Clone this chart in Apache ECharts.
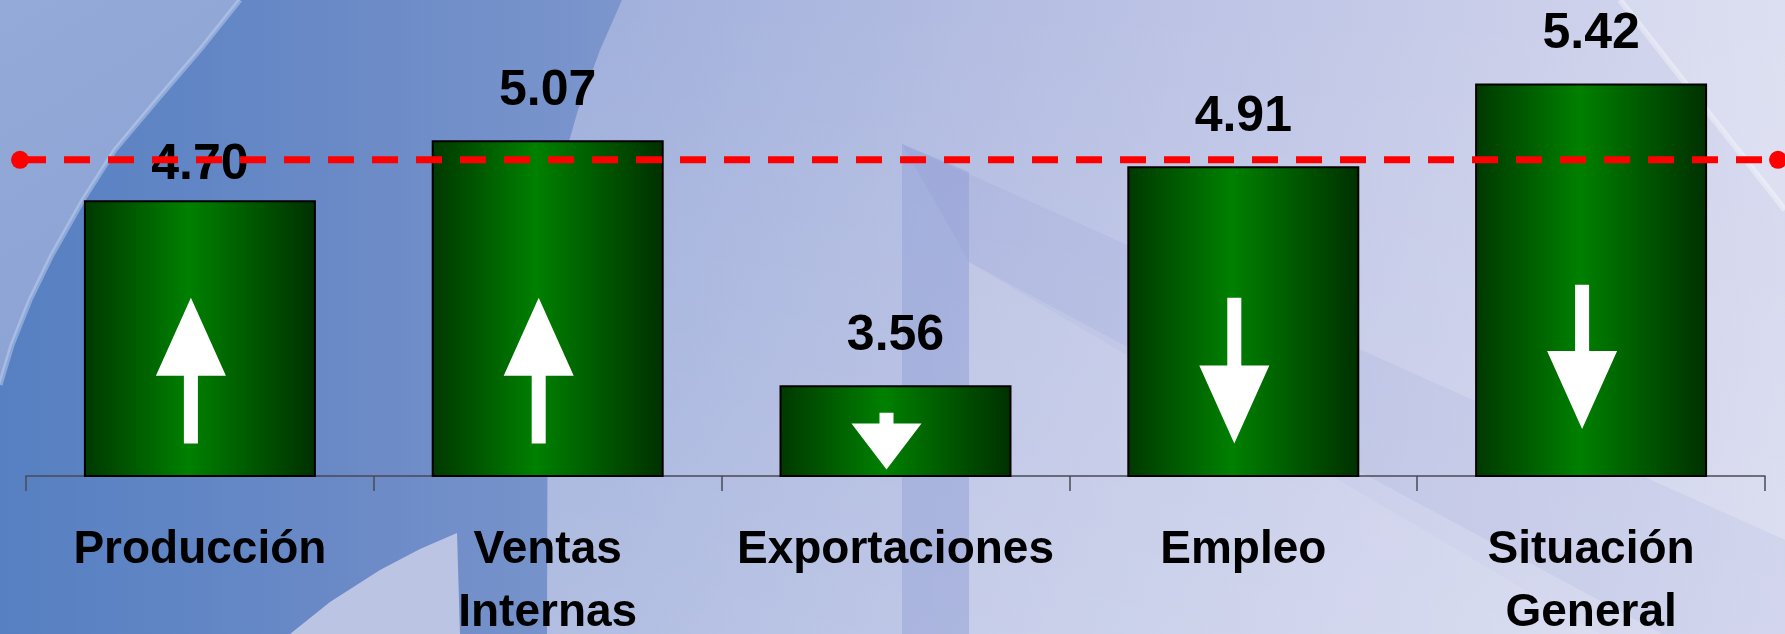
<!DOCTYPE html>
<html>
<head>
<meta charset="utf-8">
<script src="https://cdn.jsdelivr.net/npm/echarts@6/dist/echarts.min.js"></script>
<style>
html,body{margin:0;padding:0;}
#c{width:1785px;height:634px;}
</style>
</head>
<body>
<div id="c"></div>
<script>
// ---- data ----
const categories = ['Producción', 'Ventas\nInternas', 'Exportaciones', 'Empleo', 'Situación\nGeneral'];
const values = [4.70, 5.07, 3.56, 4.91, 5.42];
const refLine = 4.95;
// arrows drawn inside bars: tail value -> tip value
const arrowFrom = [3.20, 3.20, 3.39, 4.10, 4.18];
const arrowTo = [4.10, 4.10, 3.04, 3.20, 3.29];

const Y_MIN = 3, Y_MAX = 5.8;
const FONT = 'Liberation Sans, Arial, sans-serif';

// ---- background decoration (not data) ----
function bgGraphics() {
  const g = [];
  g.push({type:'rect', z:-20, shape:{x:0,y:0,width:1785,height:634},
    style:{fill:new echarts.graphic.LinearGradient(0,0,1,0,[
      {offset:0,color:'#93a9d7'},{offset:0.35,color:'#a2b1dc'},{offset:0.55,color:'#b4bde2'},
      {offset:0.78,color:'#c5cae8'},{offset:1,color:'#d5d8ee'}])}});
  g.push({type:'rect', z:-19, shape:{x:0,y:0,width:1785,height:634},
    style:{fill:new echarts.graphic.LinearGradient(0,0,0,1,[
      {offset:0,color:'rgba(255,255,255,0)'},{offset:1,color:'rgba(255,255,255,0.18)'}])}});
  // N shape of watermark
  g.push({type:'polygon', z:-18, shape:{points:[[902,144],[1785,540],[1785,700],[969,262]]},
    style:{fill:'rgba(110,125,195,0.09)'}});
  g.push({type:'polygon', z:-18, shape:{points:[[969,262],[1600,634],[969,634]]},
    style:{fill:'rgba(255,255,255,0.10)'}});
  g.push({type:'polygon', z:-17, shape:{points:[[902,144],[969,172],[969,634],[902,634]]},
    style:{fill:'rgba(120,135,205,0.28)'}});
  g.push({type:'polygon', z:-18, shape:{points:[[1620,0],[1785,0],[1785,210]]},
    style:{fill:'rgba(255,255,255,0.18)'}});
  g.push({type:'polyline', z:-17, shape:{points:[[1620,0],[1785,210]]},
    style:{stroke:'rgba(255,255,255,0.35)',lineWidth:6}});
  // darker left region (between arcs)
  g.push({type:'polygon', z:-16, shape:{points:[[0,0],[622,0],[600,50],[578,110],[558,180],[548,260],[547,634],[0,634]]},
    style:{fill:new echarts.graphic.LinearGradient(0,0,1,0,[
      {offset:0,color:'#5680c2'},{offset:0.6,color:'#6c8bc7'},{offset:1,color:'#7c96cd'}])}});
  // light top-left region outside arc
  g.push({type:'polygon', z:-15, shape:{points:[[0,0],[240,0],[200,50],[157,100],[115,150],[83,200],[52,255],[30,300],[12,345],[0,385]]},
    style:{fill:new echarts.graphic.LinearGradient(0,0,1,1,[
      {offset:0,color:'#94aad8'},{offset:1,color:'#8aa1d3'}])}});
  g.push({type:'polyline', z:-14, shape:{points:[[240,0],[200,50],[157,100],[115,150],[83,200],[52,255],[30,300],[12,345],[0,385]]},
    style:{stroke:'rgba(200,215,245,0.45)',lineWidth:5}});
  // light bottom shape
  g.push({type:'polygon', z:-14, shape:{points:[[290,634],[330,602],[380,570],[420,549],[457,533],[460,634]]},
    style:{fill:'#bcc4e4'}});
  return g;
}

const barGrad = new echarts.graphic.LinearGradient(0,0,1,0,[
  {offset:0,color:'#003800'},{offset:0.45,color:'#008000'},{offset:1,color:'#003000'}]);

const barData = values.map((v,i) => {
  const item = {value:v};
  if (i === 0) item.label = {distance:10};
  return item;
});

const arrowData = categories.map((c,i) => [i, arrowFrom[i], arrowTo[i]]);

function renderArrow(params, api) {
  const i = api.value(0);
  const tail = api.coord([i, api.value(1)]);
  const tip = api.coord([i, api.value(2)]);
  const x = tail[0] - 9;
  const len = Math.abs(tip[1] - tail[1]);
  const dir = tip[1] < tail[1] ? -1 : 1; // -1 up
  const head = Math.min(78, len * 0.81);
  const hw = 35, sw = 7;
  const baseY = tip[1] - dir * head;
  const pts = [
    [x - sw, tail[1]], [x + sw, tail[1]], [x + sw, baseY], [x + hw, baseY],
    [x, tip[1]], [x - hw, baseY], [x - sw, baseY]
  ];
  return {type:'polygon', shape:{points:pts}, style:{fill:'#ffffff'}};
}

const chart = echarts.init(document.getElementById('c'), null, {renderer:'canvas'});
chart.setOption({
  animation:false,
  graphic: bgGraphics(),
  grid:[
    {left:26, right:20, top:22, bottom:158, containLabel:false, outerBoundsMode:'none'},
    {left:20, right:7, top:22, bottom:158, containLabel:false, outerBoundsMode:'none'}
  ],
  xAxis:[
    {type:'category', gridIndex:0, data:categories,
     axisLine:{lineStyle:{color:'#4a4a55', width:1.5}},
     axisTick:{show:true, length:15, alignWithLabel:false, lineStyle:{color:'#4a4a55', width:1.5}},
     axisLabel:{interval:0, margin:43, fontSize:46, fontWeight:'bold', color:'#000',
       lineHeight:63, fontFamily:FONT}},
    {type:'value', gridIndex:1, min:0, max:1, show:false}
  ],
  yAxis:[
    {type:'value', gridIndex:0, min:Y_MIN, max:Y_MAX, show:false, splitLine:{show:false}},
    {type:'value', gridIndex:1, min:Y_MIN, max:Y_MAX, show:false, splitLine:{show:false}}
  ],
  series:[
    {type:'bar', xAxisIndex:0, yAxisIndex:0, data:barData, barWidth:'66.7%', z:3,
     itemStyle:{color:barGrad, borderColor:'#000', borderWidth:2},
     label:{show:true, position:'top', distance:24, fontSize:50, fontWeight:'bold', color:'#000',
       fontFamily:FONT, formatter:p => p.value.toFixed(2)}},
    {type:'custom', xAxisIndex:0, yAxisIndex:0, data:arrowData, renderItem:renderArrow, z:5},
    {type:'line', xAxisIndex:1, yAxisIndex:1, data:[[0,refLine],[1,refLine]], z:10,
     symbol:'circle', symbolSize:18, itemStyle:{color:'#ff0000'},
     lineStyle:{color:'#ff0000', width:7, type:[26,18], cap:'butt'}}
  ]
});
</script>
</body>
</html>
